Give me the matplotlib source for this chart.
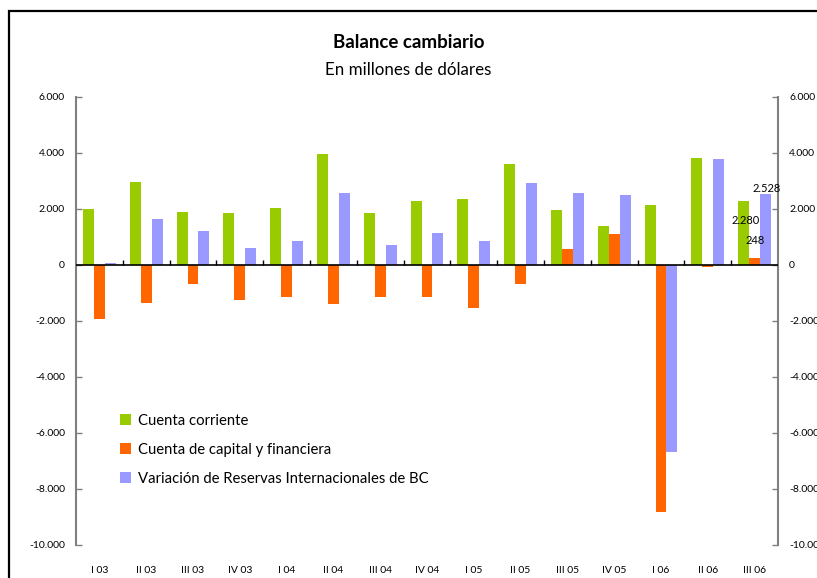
import numpy as np
import matplotlib
matplotlib.use('Agg')
import matplotlib.pyplot as plt
from matplotlib.patches import Rectangle
from matplotlib.ticker import FuncFormatter

plt.rcParams['font.family'] = ['Lato', 'DejaVu Sans']

# quarters
trimestres = ['I 03', 'II 03', 'III 03', 'IV 03', 'I 04', 'II 04', 'III 04', 'IV 04',
              'I 05', 'II 05', 'III 05', 'IV 05', 'I 06', 'II 06', 'III 06']

# millones de dolares
cuenta_corriente = [2000, 2970, 1900, 1860, 2040, 3960, 1860, 2290,
                    2360, 3610, 1970, 1400, 2150, 3810, 2280]
cuenta_capital = [-1945, -1340, -665, -1235, -1160, -1410, -1130, -1130,
                  -1520, -665, 580, 1115, -8830, -60, 248]
reservas = [80, 1650, 1220, 615, 865, 2575, 725, 1150,
            865, 2930, 2575, 2500, -6690, 3775, 2528]

labels = ['Cuenta corriente', 'Cuenta de capital y financiera',
          'Variación de Reservas Internacionales de BC']
colores = ['#99CC00', '#FF6600', '#9999FF']

W, H = 817, 578
fig = plt.figure(figsize=(W / 100, H / 100), dpi=100)
ax = fig.add_axes([76 / W, 33 / H, (778 - 76) / W, 448 / H])

x = np.arange(len(trimestres))
bw = 0.235
ax.bar(x - bw, cuenta_corriente, bw, color=colores[0], label=labels[0], zorder=2)
ax.bar(x, cuenta_capital, bw, color=colores[1], label=labels[1], zorder=2)
ax.bar(x + bw, reservas, bw, color=colores[2], label=labels[2], zorder=3)

ax.set_xlim(-0.5, len(trimestres) - 0.5)
ax.set_ylim(-10000, 6000)
ax.set_yticks(np.arange(-10000, 6001, 2000))
ax.yaxis.set_major_formatter(FuncFormatter(lambda v, p: f'{int(v):,}'.replace(',', '.')))

# zero line and small category separators
ax.axhline(0, color='black', linewidth=1.2, zorder=4)
ax.vlines(x[:-1] + 0.5, 0, 180, color='black', linewidth=1, zorder=4)

ax.set_xticks(x)
ax.set_xticklabels(trimestres)
ax.tick_params(axis='x', length=0, pad=15, labelsize=7.5)
ax.tick_params(axis='y', direction='in', length=4, width=1, color='#808080',
               labelsize=7.5, left=True, right=True, labelleft=True, labelright=True,
               pad=8)

for s in ['top', 'bottom']:
    ax.spines[s].set_visible(False)
for s in ['left', 'right']:
    ax.spines[s].set_color('#808080')
    ax.spines[s].set_linewidth(1.5)

# data labels for the last quarter
ax.annotate('2.528', xy=(x[-1] + bw, reservas[-1]), xytext=(1, 6),
            textcoords='offset pixels', ha='center', va='center', fontsize=8)
ax.annotate('2.280', xy=(x[-1] - bw, cuenta_corriente[-1]), xytext=(2, -19),
            textcoords='offset pixels', ha='center', va='center', fontsize=8)
ax.annotate('248', xy=(x[-1], cuenta_capital[-1]), xytext=(1, 18),
            textcoords='offset pixels', ha='center', va='center', fontsize=8)

ax.legend(loc='upper left', bbox_to_anchor=(114 / W, 1 - 408 / H),
          bbox_transform=fig.transFigure, frameon=False, fontsize=10.7,
          handlelength=0.75, handleheight=0.75, handletextpad=0.45,
          labelspacing=1.0, borderaxespad=0)

fig.text(0.5, 1 - 42 / H, 'Balance cambiario', ha='center', va='center',
         fontsize=13.5, fontweight='bold')
fig.text(0.5, 1 - 70 / H, 'En millones de dólares', ha='center', va='center',
         fontsize=12.2)

# outer frame, cut at right and bottom like the original
fig.patches.append(Rectangle((9 / W, -0.1), 1.2, 1.1 - 11 / H,
                             transform=fig.transFigure, fill=False,
                             edgecolor='black', linewidth=1.6))

fig.savefig('out.png', dpi=100)
